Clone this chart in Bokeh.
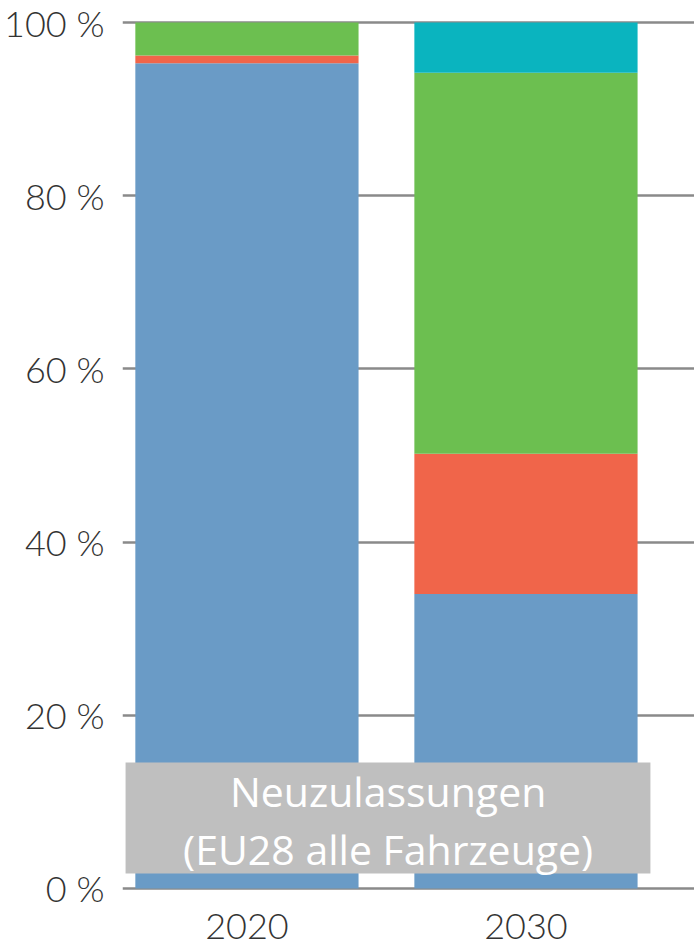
from bokeh.plotting import figure
from bokeh.models import Range1d, FixedTicker, BoxAnnotation, Label
from bokeh.embed import file_html
from bokeh.resources import INLINE

# ---- data ----
years = ["2020", "2030"]
blue = [95.3, 34.0]
red = [0.9, 16.2]
green = [3.8, 44.0]
teal = [0.0, 5.8]
y_ticks = [0, 20, 40, 60, 80, 100]
y_tick_labels = ["0 %", "20 %", "40 %", "60 %", "80 %", "100 %"]
box_lines = ["Neuzulassungen", "(EU28 alle Fahrzeuge)"]

series = [blue, red, green, teal]
colors = ["#6a9bc6", "#f0654a", "#6cbf50", "#0ab4bf"]

xs = list(range(len(years)))

p = figure(width=694, height=951, output_backend="svg", toolbar_location=None,
           x_range=Range1d(-0.446, 1.604), y_range=Range1d(-1.04, 100.46),
           min_border_left=122, min_border_right=0, min_border_top=18,
           min_border_bottom=54)
p.outline_line_color = None
p.background_fill_color = "white"
p.border_fill_color = "white"

bottom = [0.0] * len(years)
for vals, c in zip(series, colors):
    top = [b + v for b, v in zip(bottom, vals)]
    p.vbar(x=xs, width=0.8, bottom=bottom, top=top, fill_color=c, line_color=None)
    bottom = top

# grid
p.xgrid.visible = False
p.ygrid.ticker = FixedTicker(ticks=y_ticks)
p.ygrid.grid_line_color = "#8a8a8a"
p.ygrid.grid_line_width = 2.5
p.ygrid.level = "underlay"

font = "'Lato Light', Lato"
# y axis
p.yaxis.ticker = FixedTicker(ticks=y_ticks)
p.yaxis.major_label_overrides = {t: l for t, l in zip(y_ticks, y_tick_labels)}
p.yaxis.axis_line_color = None
p.yaxis.major_tick_line_color = None
p.yaxis.minor_tick_line_color = None
p.yaxis.major_label_text_font = font
p.yaxis.major_label_text_font_size = "36px"
p.yaxis.major_label_text_color = "#333333"
p.yaxis.major_label_standoff = 12

# x axis
p.xaxis.ticker = FixedTicker(ticks=xs)
p.xaxis.major_label_overrides = {i: y for i, y in zip(xs, years)}
p.xaxis.axis_line_color = None
p.xaxis.major_tick_line_color = None
p.xaxis.minor_tick_line_color = None
p.xaxis.major_label_text_font = font
p.xaxis.major_label_text_font_size = "36px"
p.xaxis.major_label_text_color = "#333333"
p.xaxis.major_label_standoff = 10

# label box
p.add_layout(BoxAnnotation(left=-0.435, right=1.446, bottom=1.73, top=14.55,
                           fill_color="#bfbfbf", fill_alpha=1.0, line_color=None,
                           level="overlay"))
for txt, yy in zip(box_lines, [11.3, 4.6]):
    p.add_layout(Label(x=0.506, y=yy, text=txt, text_align="center",
                       text_baseline="middle", text_color="white",
                       text_font="'Open Sans'", text_font_size="41px",
                       level="overlay"))

open("out.html", "w").write(file_html(p, INLINE))
